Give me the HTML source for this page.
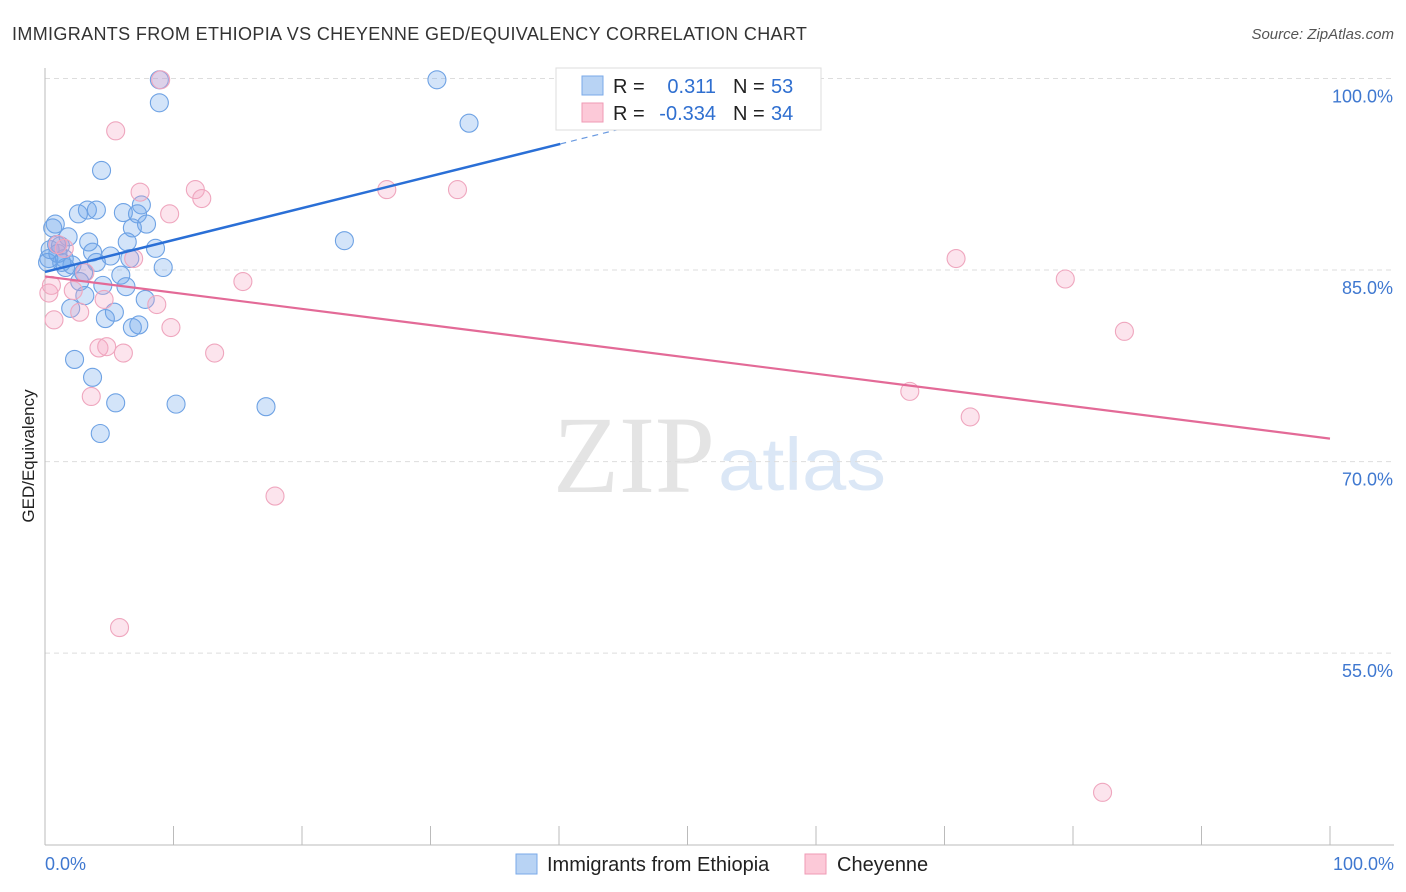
<!DOCTYPE html>
<html><head><meta charset="utf-8"><style>
body{margin:0;background:#fff;font-family:"Liberation Sans",sans-serif;}
svg{display:block}
</style></head><body>
<svg width="1406" height="892" id="chart">
<text x="12" y="40" font-size="18" fill="#333" letter-spacing="0.35">IMMIGRANTS FROM ETHIOPIA VS CHEYENNE GED/EQUIVALENCY CORRELATION CHART</text>
<text x="1394" y="39" font-size="15" fill="#555" font-style="italic" text-anchor="end">Source: ZipAtlas.com</text>
<g>
<text x="553" y="492" font-family="Liberation Serif,serif" font-size="110" fill="#e4e4e4" textLength="162" lengthAdjust="spacingAndGlyphs">ZIP</text>
<text x="718" y="490" font-size="74" fill="#dbe7f6" textLength="168" lengthAdjust="spacingAndGlyphs">atlas</text>
</g>
<g id="grid"></g>
<g id="axes"></g>
<g id="pts"></g>
<g id="lines"></g>
<text transform="translate(34,456) rotate(-90)" font-size="17" fill="#222" text-anchor="middle">GED/Equivalency</text>
<g>
<rect x="556" y="68" width="265" height="62" fill="#fff" stroke="#ddd"/>
<rect x="582" y="76" width="21" height="19" fill="#b8d3f4" stroke="#7aaae8"/>
<rect x="582" y="103" width="21" height="19" fill="#fcc9d8" stroke="#ef9ab5"/>
<text x="613" y="93" font-size="20" fill="#222">R = </text>
<text x="716" y="93" font-size="20" fill="#2f6fd0" text-anchor="end">0.311</text>
<text x="733" y="93" font-size="20" fill="#222">N = </text>
<text x="771" y="93" font-size="20" fill="#2f6fd0">53</text>
<text x="613" y="120" font-size="20" fill="#222">R = </text>
<text x="716" y="120" font-size="20" fill="#2f6fd0" text-anchor="end">-0.334</text>
<text x="733" y="120" font-size="20" fill="#222">N = </text>
<text x="771" y="120" font-size="20" fill="#2f6fd0">34</text>
</g>
<g>
<rect x="516" y="854" width="21" height="20" fill="#b8d3f4" stroke="#7aaae8"/>
<text x="547" y="871" font-size="20" fill="#222">Immigrants from Ethiopia</text>
<rect x="805" y="854" width="21" height="20" fill="#fcc9d8" stroke="#ef9ab5"/>
<text x="837" y="871" font-size="20" fill="#222">Cheyenne</text>
</g>
</svg>
<script>
const yTicks=[55,70,85,100];
const yTickLabels=["55.0%","70.0%","85.0%","100.0%"];
const xTickLabels=["0.0%","100.0%"];
const blueX=[8.9,30.5,8.9,33.0,4.4,0.8,0.6,3.3,4.0,2.6,6.1,7.5,7.2,7.9,6.8,1.8,3.4,6.4,0.9,1.2,8.6,3.7,5.1,0.3,1.5,2.1,4.0,6.6,9.2,1.6,3.0,5.9,2.7,4.5,6.3,3.1,7.8,2.0,5.4,4.7,7.3,6.8,23.3,2.3,3.7,5.5,10.2,17.2,4.3,0.2,0.4,1.0,1.3];
const blueY=[99.9,99.9,98.1,96.5,92.8,88.6,88.3,89.7,89.7,89.4,89.5,90.1,89.4,88.6,88.3,87.6,87.2,87.2,87.0,86.9,86.7,86.4,86.1,85.9,85.9,85.4,85.6,85.9,85.2,85.2,84.8,84.6,84.1,83.8,83.7,83.0,82.7,82.0,81.7,81.2,80.7,80.5,87.3,78.0,76.6,74.6,74.5,74.3,72.2,85.6,86.6,86.3,85.6];
const pinkX=[9.0,5.5,7.4,11.7,12.2,9.7,26.6,32.1,1.5,1.0,6.9,15.4,3.1,0.3,2.2,2.7,0.7,4.6,8.7,9.8,4.2,4.8,6.1,13.2,3.6,17.9,5.8,70.9,79.4,84.0,67.3,72.0,82.3,0.5];
const pinkY=[99.9,95.9,91.1,91.3,90.6,89.4,91.3,91.3,86.7,87.0,85.9,84.1,84.8,83.2,83.4,81.7,81.1,82.7,82.3,80.5,78.9,79.0,78.5,78.5,75.1,67.3,57.0,85.9,84.3,80.2,75.5,73.5,44.1,83.8];
const blueLine=[84.85,0.25];  // intercept, slope
const pinkLine=[84.5,-0.127];
const NS="http://www.w3.org/2000/svg";
const X=v=>45+v*12.85, Y=v=>78.5+(100-v)*12.77;
function mk(p,t,a){const e=document.createElementNS(NS,t);for(const k in a)e.setAttribute(k,a[k]);document.getElementById(p).appendChild(e);return e;}
yTicks.forEach((t,i)=>{
 const g=mk('grid','line',{x1:45,x2:1394,y1:Y(t),y2:Y(t),stroke:'#ddd','stroke-dasharray':'5,4'});
 
 
 const l=mk('grid','text',{x:1393,y:Y(t)+24,'font-size':18,fill:'#3f78d0','text-anchor':'end'});
 l.textContent=yTickLabels[i];
 
 
});
const ax=mk('axes','line',{x1:45,x2:45,y1:68,y2:845,stroke:'#bbb'});


const bx=mk('axes','line',{x1:45,x2:1394,y1:845,y2:845,stroke:'#bbb'});


for(let i=0;i<=10;i++){
 const t=mk('axes','line',{x1:X(i*10),x2:X(i*10),y1:826,y2:845,stroke:'#bbb'});
 
 
}
[[0,'start',45],[100,'end',1394]].forEach((d,i)=>{
 const l=mk('axes','text',{x:d[2],y:870,'font-size':18,fill:'#3f78d0','text-anchor':d[1]});
 l.textContent=xTickLabels[i];
 
 
});
blueX.forEach((x,i)=>{
 const c=mk('pts','circle',{cx:X(x),cy:Y(blueY[i]),r:9,fill:'rgba(110,165,235,0.3)',stroke:'#6ea2e4','stroke-width':1.1});
 
 
});
pinkX.forEach((x,i)=>{
 const c=mk('pts','circle',{cx:X(x),cy:Y(pinkY[i]),r:9,fill:'rgba(245,165,195,0.3)',stroke:'#efa6be','stroke-width':1.1});
 
 
});
const fb=x=>blueLine[0]+blueLine[1]*x, fp=x=>pinkLine[0]+pinkLine[1]*x;
const b1=mk('lines','line',{x1:X(0),y1:Y(fb(0)),x2:X(40.1),y2:Y(fb(40.1)),stroke:'#2a6fd6','stroke-width':2.5});


const b2=mk('lines','line',{x1:X(40.1),y1:Y(fb(40.1)),x2:X(55),y2:Y(fb(55)),stroke:'#6a9ae0','stroke-width':1.2,'stroke-dasharray':'6,5'});


const p1=mk('lines','line',{x1:X(0),y1:Y(fp(0)),x2:X(100),y2:Y(fp(100)),stroke:'#e36a97','stroke-width':2.2});


</script>
</body></html>
